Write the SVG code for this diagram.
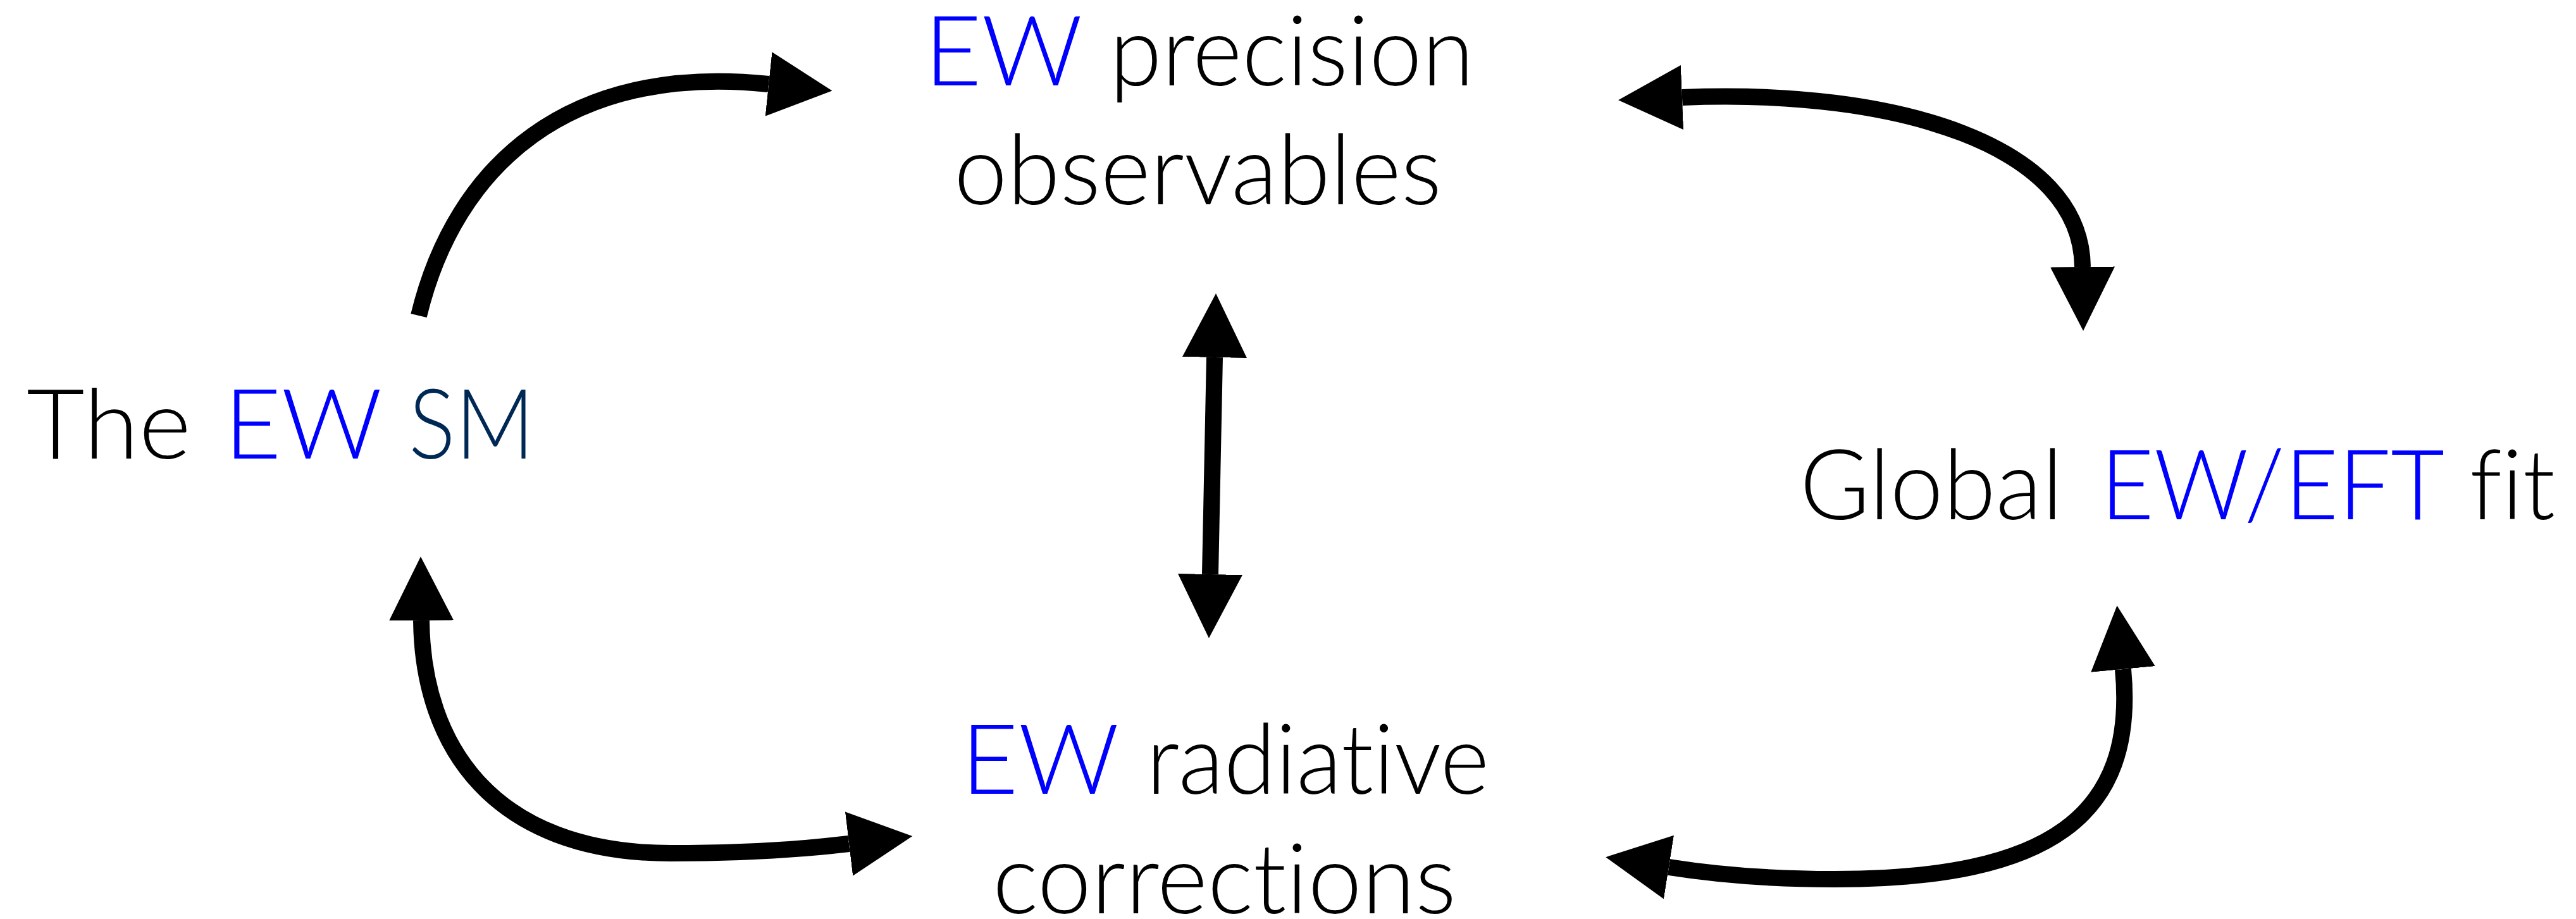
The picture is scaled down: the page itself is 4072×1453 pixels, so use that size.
<svg xmlns="http://www.w3.org/2000/svg" width="4072" height="1453" viewBox="0 0 4072 1453">
  <style>
    .t { font-family: Lato, "Open Sans", "Liberation Sans", sans-serif; font-weight: 300; font-size: 155px; fill: #000; font-variant-ligatures: none; font-feature-settings: "liga" 0, "clig" 0, "dlig" 0; }
    .b { fill: #0000ff; }
    .n { fill: #002855; }
    .c { fill: none; stroke: #000; stroke-width: 26; stroke-linecap: butt; }
  </style>
  <defs>
    <marker id="ah" markerUnits="userSpaceOnUse" markerWidth="102" markerHeight="102" viewBox="0 0 102 102" refX="0" refY="51" orient="auto-start-reverse">
      <path d="M0,0 L101,51 L0,102 Z" fill="#000"/>
    </marker>
  </defs>
  <rect width="4072" height="1453" fill="#fff"/>

  <g id="node-sm">
    <text class="t" x="42" y="725" textLength="260" lengthAdjust="spacingAndGlyphs">The</text>
    <text class="t b" x="354" y="725" textLength="250" lengthAdjust="spacingAndGlyphs">EW</text>
    <text class="t n" x="646" y="725" textLength="199" lengthAdjust="spacingAndGlyphs">SM</text>
  </g>

  <g id="node-observables">
    <text class="t b" x="1461" y="135" textLength="250" lengthAdjust="spacingAndGlyphs">EW</text>
    <text class="t" x="1754" y="135" textLength="576" lengthAdjust="spacingAndGlyphs">precision</text>
    <text class="t" x="1508" y="323" textLength="771" lengthAdjust="spacingAndGlyphs">observables</text>
  </g>

  <g id="node-radiative">
    <text class="t b" x="1519" y="1255" textLength="250" lengthAdjust="spacingAndGlyphs">EW</text>
    <text class="t" x="1812" y="1255" textLength="542" lengthAdjust="spacingAndGlyphs">radiative</text>
    <text class="t" x="1569" y="1444" textLength="733" lengthAdjust="spacingAndGlyphs">corrections</text>
  </g>

  <g id="node-fit">
    <text class="t" x="2845" y="821" textLength="416" lengthAdjust="spacingAndGlyphs">Global</text>
    <text class="t b" x="3320" y="821" textLength="544" lengthAdjust="spacingAndGlyphs">EW/EFT</text>
    <text class="t" x="3904" y="821" textLength="135" lengthAdjust="spacingAndGlyphs">fit</text>
  </g>

  <g id="connectors">
    <path class="c" d="M662,499 C720,260 900,100 1215,133" marker-end="url(#ah)"/>
    <path class="c" d="M2659,154 C3000,140 3290,230 3292,422" marker-start="url(#ah)" marker-end="url(#ah)"/>
    <path class="c" d="M666,981 C668,1180 780,1349 1060,1349 C1160,1349 1250,1345 1342,1334" marker-start="url(#ah)" marker-end="url(#ah)"/>
    <path class="c" d="M3356,1058 C3378,1290 3240,1390 2900,1390 C2800,1390 2720,1384 2638,1371" marker-start="url(#ah)" marker-end="url(#ah)"/>
    <path class="c" d="M1920,565 L1913,908" marker-start="url(#ah)" marker-end="url(#ah)"/>
  </g>
</svg>
